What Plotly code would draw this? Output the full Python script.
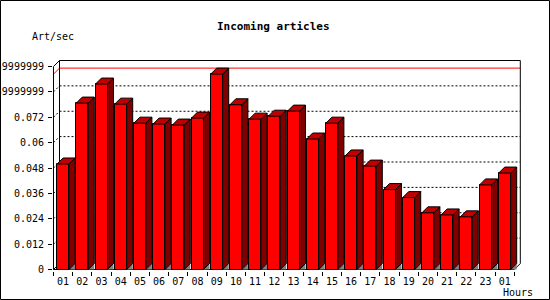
import plotly.graph_objects as go

# ---------------- data ----------------
hours = ["01", "02", "03", "04", "05", "06", "07", "08", "09", "10", "11", "12",
         "13", "14", "15", "16", "17", "18", "19", "20", "21", "22", "23", "01"]
rates = [0.0499, 0.0787, 0.0877, 0.0782, 0.0692, 0.0688, 0.0683, 0.0716,
         0.0924, 0.0779, 0.0711, 0.0725, 0.0749, 0.0617, 0.0692, 0.0537,
         0.0489, 0.0378, 0.0340, 0.0268, 0.0258, 0.0249, 0.0400, 0.0456]
ytick_vals = [0, 0.012, 0.024, 0.036, 0.048, 0.06, 0.072, 0.084, 0.096]
ytick_text = ["0", "0.012", "0.024", "0.036", "0.048", "0.06", "0.072",
              "0.0839999999", "0.0959999999"]
title_text = "Incoming articles"
y_label = "Art/sec"
x_label = "Hours"

# ---------------- geometry (styling) ----------------
FW, FH = 550, 300
L, R, T, B = 53, 27, 58, 29
PW, PH = FW - L - R, FH - T - B
PBOT = FH - B
SX = 19.2                 # px per category slot
SY = 203 / ytick_vals[-1]  # px per data unit
n = len(rates)
x_start = -0.5 - 0.5 / SX
x_range = [x_start, x_start + PW / SX]
y_start = -1.5 / SY
y_range = [y_start, y_start + PH / SY]
DX, DY = 6 / SX, 6 / SY    # 3D depth offset
HW = 6 / SX                # half width of front face

RED, SIDE, TOP, GREY = "#FF0000", "#800000", "#C00000", "#808080"
FONT = "DejaVu Sans Mono"

xs = list(range(n))
left, right = -0.5, n - 0.5
ytop = ytick_vals[-1]

# faces derived from data
top_x, top_y, side_x, side_y, tri_x, tri_y = [], [], [], [], [], []
for i, v in zip(xs, rates):
    xl, xr = i - HW, i + HW
    top_x += [xl, xr, xr + DX, xl + DX, xl, None]
    top_y += [v, v, v + DY, v + DY, v, None]
    side_x += [xr, xr + DX, xr + DX, xr, xr, None]
    side_y += [0, DY, v + DY, v, 0, None]
    tri_x += [xr, xr + DX, xr + DX, xr, None]
    tri_y += [0, 0, DY, 0, None]

fig = go.Figure()
fig.add_trace(go.Bar(x=xs, y=rates, width=2 * HW,
                     marker=dict(color=RED, line=dict(color="black", width=1)),
                     hoverinfo="skip"))
fig.add_trace(go.Scatter(x=tri_x, y=tri_y, mode="lines", fill="toself",
                         fillcolor=GREY, line=dict(width=0), hoverinfo="skip"))
fig.add_trace(go.Scatter(x=side_x, y=side_y, mode="lines", fill="toself",
                         fillcolor=SIDE, line=dict(color="black", width=1),
                         hoverinfo="skip"))
fig.add_trace(go.Scatter(x=top_x, y=top_y, mode="lines", fill="toself",
                         fillcolor=TOP, line=dict(color="black", width=1),
                         hoverinfo="skip"))

shapes = []
def seg(x0, y0, x1, y1, color="black", dash="solid"):
    shapes.append(dict(type="line", xref="x", yref="y", x0=x0, y0=y0, x1=x1, y1=y1,
                       line=dict(color=color, width=1, dash=dash), layer="below"))

# gridlines on walls
for t in ytick_vals[1:-1]:
    seg(left, t, left + DX, t + DY, dash="2px,2px")
    seg(left + DX, t + DY, right + DX, t + DY, dash="2px,2px")
# max line
vmax = max(rates)
seg(left, vmax, left + DX, vmax + DY, color="#FF0000")
seg(left + DX, vmax + DY, right + DX, vmax + DY, color="#FF0000")
# frame
seg(left, 0, left, ytop)
seg(left, 0, right, 0)
seg(left, ytop, left + DX, ytop + DY)
seg(left + DX, DY, left + DX, ytop + DY)
seg(left, 0, left + DX, DY)
seg(left + DX, ytop + DY, right + DX, ytop + DY)
seg(right + DX, DY, right + DX, ytop + DY)
seg(right, 0, right + DX, DY)

def px(xp):
    return (xp - L) / PW
def py(yp):
    return (PBOT - yp) / PH

shapes.append(dict(type="rect", xref="paper", yref="paper",
                   x0=px(0.5), x1=px(549.5), y0=py(0.5), y1=py(299.5),
                   line=dict(color="black", width=1), layer="above"))

annotations = [
    dict(text="<b>" + title_text + "</b>", xref="paper", yref="paper",
         x=px(273.5), y=py(27), xanchor="center", yanchor="middle", showarrow=False,
         font=dict(family=FONT, size=11, color="black")),
    dict(text=y_label, xref="paper", yref="paper", x=px(30), y=py(37),
         xanchor="left", yanchor="middle", showarrow=False,
         font=dict(family=FONT, size=10, color="black")),
    dict(text=x_label, xref="paper", yref="paper", x=px(535), y=py(292),
         xanchor="right", yanchor="middle", showarrow=False,
         font=dict(family=FONT, size=10, color="black")),
]

fig.update_layout(
    width=FW, height=FH, template="none",
    margin=dict(l=L, r=R, t=T, b=B, pad=0, autoexpand=False),
    paper_bgcolor="white", plot_bgcolor="white",
    showlegend=False, bargap=0,
    shapes=shapes, annotations=annotations,
    xaxis=dict(range=x_range, tickmode="array", tickvals=xs, ticktext=hours,
               ticks="", showgrid=False, zeroline=False, showline=False,
               automargin=False, fixedrange=True, ticklabelstandoff=3,
               tickfont=dict(family=FONT, size=10, color="black"),
               minor=dict(tickmode="array", tickvals=[k - 0.5 for k in range(n + 1)],
                          ticks="outside", ticklen=4, tickcolor="black", tickwidth=1,
                          showgrid=False)),
    yaxis=dict(range=y_range, tickmode="array", tickvals=ytick_vals, ticktext=ytick_text,
               ticks="outside", ticklen=4, tickcolor="black", tickwidth=1,
               showgrid=False, zeroline=False, showline=False,
               automargin=False, fixedrange=True, ticklabelstandoff=2,
               tickfont=dict(family=FONT, size=10, color="black")),
)

fig.write_html("out.html", config={"displayModeBar": False})
